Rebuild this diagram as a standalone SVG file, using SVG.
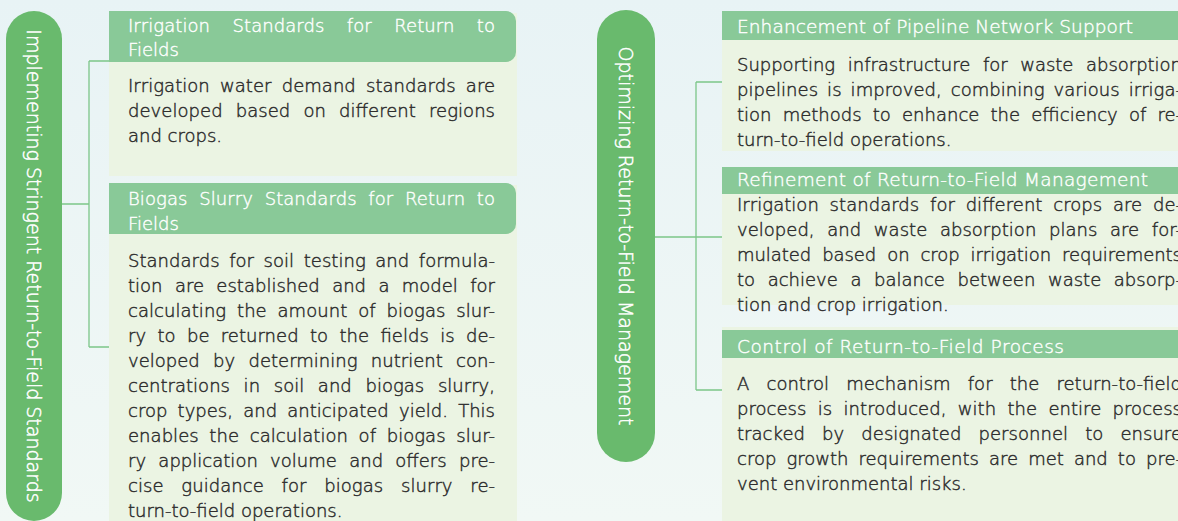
<svg xmlns="http://www.w3.org/2000/svg" width="1178" height="521" viewBox="0 0 1178 521">
<defs>
<linearGradient id="bg" x1="0" y1="0" x2="0" y2="1">
<stop offset="0" stop-color="#e8f3f5"/>
<stop offset="1" stop-color="#f1f8f5"/>
</linearGradient>
<style>
.pill{fill:#69ba6d}
.hdr{fill:#89c998}
.body{fill:#ebf4e3}
.pt{font-family:"DejaVu Sans",sans-serif;font-weight:300;font-size:19px;fill:#ffffff;stroke:#ffffff;stroke-width:0.5;text-anchor:middle;dominant-baseline:central}
.ht{font-family:"DejaVu Sans",sans-serif;font-weight:300;font-size:18px;fill:#ffffff;stroke:#ffffff;stroke-width:0.4}
.bt{font-family:"DejaVu Sans",sans-serif;font-weight:300;font-size:18px;fill:#2e2e2e;stroke:#2e2e2e;stroke-width:0.45}
.conn{fill:none;stroke:#7cc688;stroke-width:1.3}
</style>
</defs>
<rect width="1178" height="521" fill="url(#bg)"/>

<g id="connectors">
<path class="conn" d="M62,204 H89 M89,61 V347 M89,61 H109 M89,347 H109"/>
<path class="conn" d="M655,237 H722 M696,82 V390 M696,82 H722 M696,390 H722"/>
</g>

<g id="pill-left">
<rect class="pill" x="6" y="11" width="56" height="510" rx="28"/>
<text class="pt" transform="translate(34 266) rotate(90)">Implementing Stringent Return-to-Field Standards</text>
</g>

<g id="card-irrigation-standards">
<rect class="body" x="109" y="13" width="408" height="163"/>
<path class="hdr" d="M109,11 H506 A10,10 0 0 1 516,21 V52 A10,10 0 0 1 506,62 H109 Z"/>
<text class="ht" x="128" y="32" word-spacing="16.7" textLength="367" lengthAdjust="spacing">Irrigation Standards for Return to</text>
<text class="ht" x="128" y="56">Fields</text>
<text class="bt" x="128" y="92" word-spacing="4.5" textLength="367" lengthAdjust="spacing">Irrigation water demand standards are</text>
<text class="bt" x="128" y="117" word-spacing="7.3" textLength="367" lengthAdjust="spacing">developed based on different regions</text>
<text class="bt" x="128" y="142">and crops.</text>
</g>

<g id="card-biogas-standards">
<rect class="body" x="109" y="185" width="408" height="340"/>
<path class="hdr" d="M109,183 H506 A10,10 0 0 1 516,193 V224 A10,10 0 0 1 506,234 H109 Z"/>
<text class="ht" x="128" y="205" word-spacing="5.9" textLength="367" lengthAdjust="spacing">Biogas Slurry Standards for Return to</text>
<text class="ht" x="128" y="230">Fields</text>
<text class="bt" x="128" y="267" word-spacing="3.8" textLength="367" lengthAdjust="spacing">Standards for soil testing and formula-</text>
<text class="bt" x="128" y="292" word-spacing="6.6" textLength="367" lengthAdjust="spacing">tion are established and a model for</text>
<text class="bt" x="128" y="317" word-spacing="5" textLength="367" lengthAdjust="spacing">calculating the amount of biogas slur-</text>
<text class="bt" x="128" y="342" word-spacing="5.6" textLength="367" lengthAdjust="spacing">ry to be returned to the fields is de-</text>
<text class="bt" x="128" y="367" word-spacing="7.5" textLength="367" lengthAdjust="spacing">veloped by determining nutrient con-</text>
<text class="bt" x="128" y="392" word-spacing="7.9" textLength="367" lengthAdjust="spacing">centrations in soil and biogas slurry,</text>
<text class="bt" x="128" y="417" word-spacing="4.5" textLength="367" lengthAdjust="spacing">crop types, and anticipated yield. This</text>
<text class="bt" x="128" y="442" word-spacing="4.9" textLength="367" lengthAdjust="spacing">enables the calculation of biogas slur-</text>
<text class="bt" x="128" y="467" word-spacing="6.5" textLength="367" lengthAdjust="spacing">ry application volume and offers pre-</text>
<text class="bt" x="128" y="492" word-spacing="12" textLength="367" lengthAdjust="spacing">cise guidance for biogas slurry re-</text>
<text class="bt" x="128" y="517">turn-to-field operations.</text>
</g>

<g id="pill-right">
<rect class="pill" x="597" y="10" width="58" height="452" rx="29"/>
<text class="pt" transform="translate(626 236) rotate(90)">Optimizing Return-to-Field Management</text>
</g>

<g id="card-pipeline">
<rect class="body" x="722" y="13" width="480" height="138"/>
<rect class="hdr" x="722" y="11" width="480" height="29"/>
<text class="ht" x="737" y="33" style="font-size:18.5px" textLength="396" lengthAdjust="spacing">Enhancement of Pipeline Network Support</text>
<text class="bt" x="737" y="71" word-spacing="7" textLength="445" lengthAdjust="spacing">Supporting infrastructure for waste absorption</text>
<text class="bt" x="737" y="96" word-spacing="3.3" textLength="445" lengthAdjust="spacing">pipelines is improved, combining various irriga-</text>
<text class="bt" x="737" y="121" word-spacing="5.4" textLength="445" lengthAdjust="spacing">tion methods to enhance the efficiency of re-</text>
<text class="bt" x="737" y="146">turn-to-field operations.</text>
</g>

<g id="card-management">
<rect class="body" x="722" y="169" width="480" height="136"/>
<rect class="hdr" x="722" y="167" width="480" height="27"/>
<text class="ht" x="737" y="186" style="font-size:18.5px" textLength="411" lengthAdjust="spacing">Refinement of Return-to-Field Management</text>
<text class="bt" x="737" y="211" word-spacing="5" textLength="445" lengthAdjust="spacing">Irrigation standards for different crops are de-</text>
<text class="bt" x="737" y="236" word-spacing="6.9" textLength="445" lengthAdjust="spacing">veloped, and waste absorption plans are for-</text>
<text class="bt" x="737" y="261" word-spacing="5.3" textLength="445" lengthAdjust="spacing">mulated based on crop irrigation requirements</text>
<text class="bt" x="737" y="286" word-spacing="6.9" textLength="445" lengthAdjust="spacing">to achieve a balance between waste absorp-</text>
<text class="bt" x="737" y="311">tion and crop irrigation.</text>
</g>

<g id="card-process">
<rect class="body" x="722" y="327" width="480" height="200"/>
<rect class="hdr" x="722" y="330" width="480" height="28"/>
<text class="ht" x="737" y="353" style="font-size:18.5px" textLength="327" lengthAdjust="spacing">Control of Return-to-Field Process</text>
<text class="bt" x="737" y="390" word-spacing="11.4" textLength="445" lengthAdjust="spacing">A control mechanism for the return-to-field</text>
<text class="bt" x="737" y="415" word-spacing="5.6" textLength="445" lengthAdjust="spacing">process is introduced, with the entire process</text>
<text class="bt" x="737" y="440" word-spacing="11.3" textLength="445" lengthAdjust="spacing">tracked by designated personnel to ensure</text>
<text class="bt" x="737" y="465" word-spacing="4.4" textLength="445" lengthAdjust="spacing">crop growth requirements are met and to pre-</text>
<text class="bt" x="737" y="490">vent environmental risks.</text>
</g>
</svg>
